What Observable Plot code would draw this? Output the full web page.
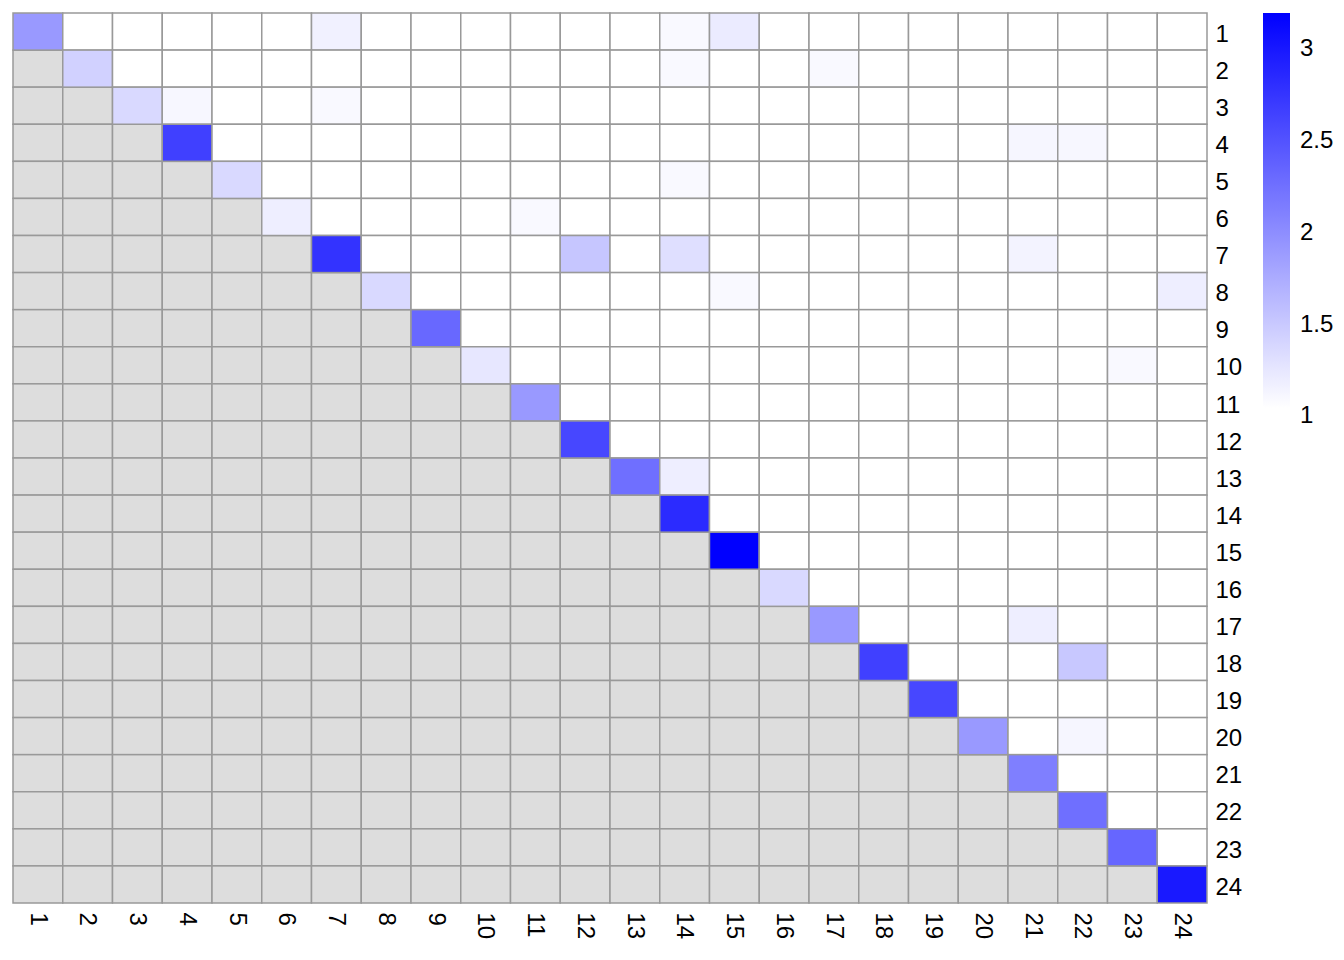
<!DOCTYPE html>
<html>
<head>
<meta charset="utf-8">
<script src="https://cdn.jsdelivr.net/npm/d3@7"></script>
<script src="https://cdn.jsdelivr.net/npm/@observablehq/plot@0.6"></script>
<style>
  html, body { margin: 0; padding: 0; background: #fff; }
  #chart { position: relative; width: 1344px; height: 960px; }
  svg { font-family: "Liberation Sans", Arial, sans-serif; }
</style>
</head>
<body>
<div id="chart"></div>
<script>
// Category labels (rows and columns)
const labels = ["1","2","3","4","5","6","7","8","9","10","11","12","13","14","15","16","17","18","19","20","21","22","23","24"];

// Diagonal values (row i, column i)
const diagValues = [1.90, 1.43, 1.36, 2.65, 1.36, 1.18, 2.76, 1.36, 2.31, 1.24, 1.90, 2.59,
                    2.25, 2.83, 3.19, 1.36, 1.90, 2.65, 2.59, 1.90, 2.12, 2.25, 2.33, 2.98];

// Off-diagonal (upper triangle) non-baseline cells
const offRow = ["1","1","1","2","2","3","3","4","4","5","6","7","7","7","8","8","10","13","17","18","20"];
const offCol = ["7","14","15","14","17","4","7","21","22","14","11","12","14","21","15","24","23","14","21","22","22"];
const offVal = [1.16,1.09,1.21,1.09,1.09,1.11,1.09,1.12,1.11,1.09,1.09,1.52,1.31,1.14,1.09,1.18,1.09,1.18,1.18,1.50,1.12];

// Baseline value of remaining upper-triangle cells
const baseValue = 1.0;

// Legend tick labels
const legendTicks = [1, 1.5, 2, 2.5, 3];

// Build table
const offMap = new Map(offRow.map((r, k) => [r + "|" + offCol[k], offVal[k]]));
const valueCells = [];
const naCells = [];
labels.forEach((r, i) => {
  labels.forEach((c, j) => {
    if (j < i) naCells.push({row: r, col: c});
    else if (i === j) valueCells.push({row: r, col: c, v: diagValues[i]});
    else valueCells.push({row: r, col: c, v: offMap.has(r + "|" + c) ? offMap.get(r + "|" + c) : baseValue});
  });
});

const colorDomain = [1.04, 3.19];
const fontSize = 24;

const plot = Plot.plot({
  width: 1344,
  height: 960,
  marginTop: 13,
  marginLeft: 13,
  marginRight: 137,
  marginBottom: 57,
  style: {fontFamily: "Liberation Sans, Arial, sans-serif", fontSize: fontSize + "px", color: "#000", background: "#fff"},
  x: {domain: labels, padding: 0, range: [13, 1207], round: false, label: null},
  y: {domain: labels, padding: 0, range: [13, 903], round: false, label: null},
  color: {type: "linear", domain: colorDomain, range: ["#ffffff", "#0000ff"], interpolate: "rgb", clamp: true},
  marks: [
    Plot.cell(naCells, {x: "col", y: "row", fill: "#DDDDDD", stroke: "#999999", strokeWidth: 1.5}),
    Plot.cell(valueCells, {x: "col", y: "row", fill: "v", stroke: "#999999", strokeWidth: 1.5}),
    Plot.axisY({anchor: "right", tickSize: 0, tickPadding: 8, textAnchor: "start", fontSize: fontSize, dy: 2, label: null}),
    Plot.axisX({anchor: "bottom", tickSize: 0, tickPadding: 9, tickRotate: 90, fontSize: fontSize, label: null})
  ]
});
document.getElementById("chart").appendChild(plot);

// Colour legend (vertical ramp) drawn alongside
const svg = d3.select(plot);
const color = plot.scale("color");
const barX = 1263, barW = 27, barTop = 13, barBottom = 408;
const grad = svg.append("defs").append("linearGradient")
  .attr("id", "legendGrad").attr("x1", 0).attr("y1", 1).attr("x2", 0).attr("y2", 0);
d3.range(0, 1.0001, 0.05).forEach(t => {
  const v = colorDomain[0] + t * (colorDomain[1] - colorDomain[0]);
  grad.append("stop").attr("offset", t).attr("stop-color", color.apply(v));
});
svg.append("rect").attr("x", barX).attr("y", barTop).attr("width", barW)
  .attr("height", barBottom - barTop).attr("fill", "url(#legendGrad)");
const yTick = d3.scaleLinear().domain([1, 3]).range([415, 48]);
svg.append("g").attr("text-anchor", "start").selectAll("text").data(legendTicks).join("text")
  .attr("x", 1300).attr("y", d => yTick(d)).attr("dy", "0.35em")
  .attr("text-anchor", "start")
  .attr("font-size", fontSize).attr("fill", "#000")
  .text(d => d);
</script>
</body>
</html>
